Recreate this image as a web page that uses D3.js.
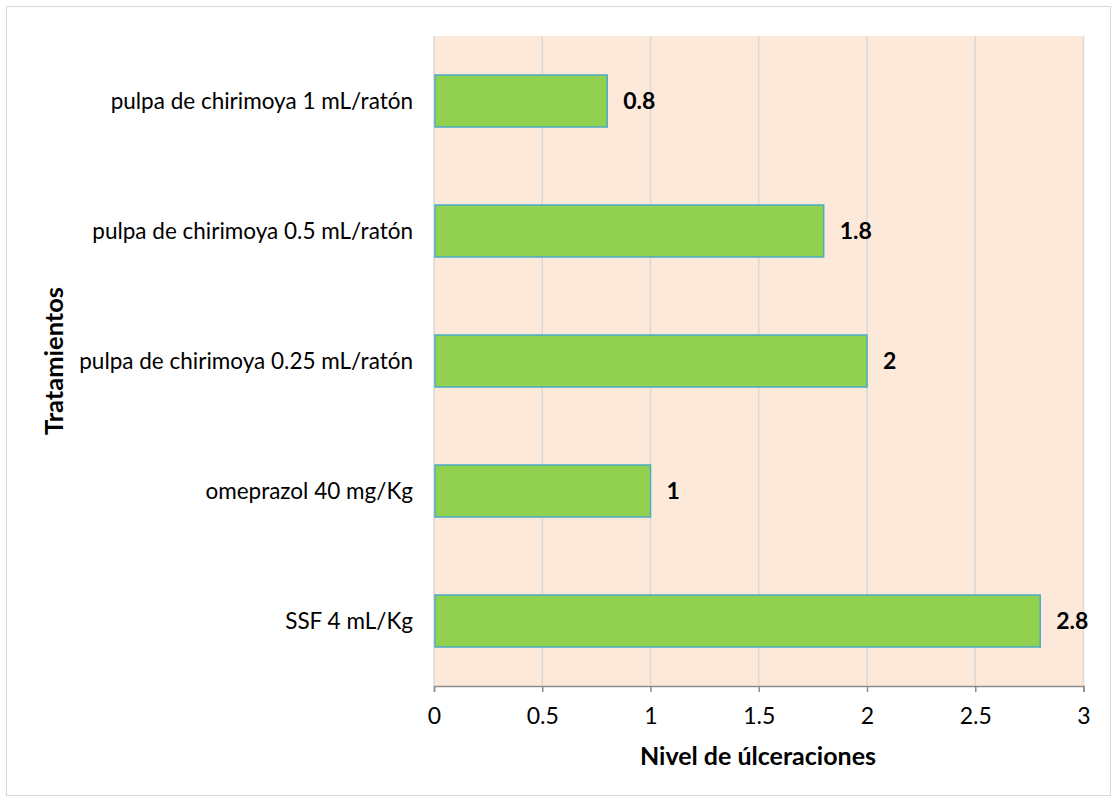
<!DOCTYPE html>
<html>
<head>
<meta charset="utf-8">
<script src="https://cdn.jsdelivr.net/npm/d3@7"></script>
<style>
  html, body { margin: 0; padding: 0; background: #fff; }
  svg { display: block; font-family: Lato, "Open Sans", sans-serif; }
</style>
</head>
<body>
<svg id="chart" width="1117" height="802"></svg>
<script>
// Treatments, top to bottom, and their ulceration level
const categories = [
  "pulpa de chirimoya 1 mL/ratón",
  "pulpa de chirimoya 0.5 mL/ratón",
  "pulpa de chirimoya 0.25 mL/ratón",
  "omeprazol 40 mg/Kg",
  "SSF 4 mL/Kg"
];
const values = [0.8, 1.8, 2, 1, 2.8];
const xTicks = [0, 0.5, 1, 1.5, 2, 2.5, 3];
const xTitle = "Nivel de úlceraciones";
const yTitle = "Tratamientos";

const svg = d3.select("#chart");
const plot = { left: 434, right: 1083.5, top: 36, bottom: 686 };

// outer frame
svg.append("rect")
  .attr("x", 6.5).attr("y", 6.5)
  .attr("width", 1104).attr("height", 789)
  .attr("fill", "#fff").attr("stroke", "#d9d9d9").attr("stroke-width", 1);

const x = d3.scaleLinear().domain([0, 3]).range([plot.left, plot.right]);
const y = d3.scaleBand().domain(categories).range([plot.top, plot.bottom]).paddingInner(0.6).paddingOuter(0.3);

// plot background
svg.append("rect")
  .attr("x", plot.left).attr("y", plot.top)
  .attr("width", plot.right - plot.left).attr("height", plot.bottom - plot.top)
  .attr("fill", "#fde9d9");

// vertical gridlines
svg.append("g").selectAll("line").data(xTicks).join("line")
  .attr("x1", d => x(d)).attr("x2", d => x(d))
  .attr("y1", plot.top).attr("y2", plot.bottom)
  .attr("stroke", "#d9d9d9").attr("stroke-width", 1.5);

// bars
svg.append("g").selectAll("rect").data(values).join("rect")
  .attr("x", x(0) + 1)
  .attr("y", (d, i) => y(categories[i]))
  .attr("width", d => x(d) - x(0) - 1)
  .attr("height", y.bandwidth())
  .attr("fill", "#92d050")
  .attr("stroke", "#4bacc6").attr("stroke-width", 1.5);

// value labels
svg.append("g").selectAll("text").data(values).join("text")
  .attr("x", d => x(d) + 16)
  .attr("y", (d, i) => y(categories[i]) + y.bandwidth() / 2)
  .attr("dy", "0.35em")
  .attr("font-size", 23).attr("font-weight", "bold").attr("fill", "#000")
  .text(d => d);

// x axis
const xAxis = d3.axisBottom(x).tickValues(xTicks).tickSize(6).tickPadding(16)
  .tickFormat(d => String(d));
const gx = svg.append("g").attr("transform", `translate(0,${plot.bottom})`).call(xAxis);
gx.select(".domain").attr("stroke", "#8c8c8c").attr("stroke-width", 1.5);
gx.selectAll(".tick line").attr("stroke", "#8c8c8c").attr("stroke-width", 1.5);
gx.selectAll(".tick text").attr("font-size", 23).attr("fill", "#000")
  .attr("font-family", "Lato, 'Open Sans', sans-serif");

// category labels
svg.append("g").selectAll("text").data(categories).join("text")
  .attr("x", 413)
  .attr("y", d => y(d) + y.bandwidth() / 2)
  .attr("dy", "0.35em")
  .attr("text-anchor", "end")
  .attr("font-size", 22.5).attr("fill", "#000")
  .text(d => d);

// axis titles
svg.append("text")
  .attr("x", 758).attr("y", 765)
  .attr("text-anchor", "middle")
  .attr("font-size", 25).attr("font-weight", "bold")
  .text(xTitle);

svg.append("text")
  .attr("transform", `translate(63,361) rotate(-90)`)
  .attr("text-anchor", "middle")
  .attr("font-size", 25.5).attr("font-weight", "bold")
  .text(yTitle);
</script>
</body>
</html>
